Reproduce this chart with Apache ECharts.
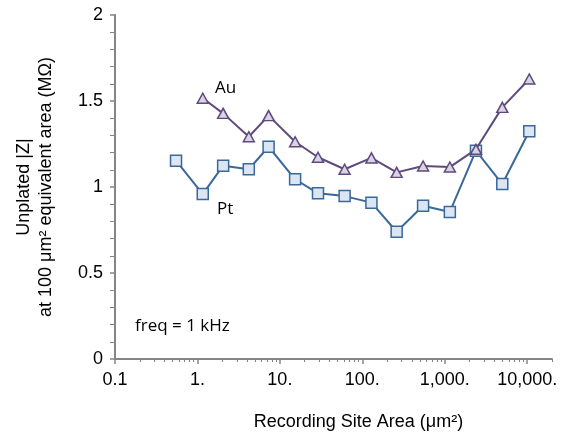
<!DOCTYPE html>
<html>
<head>
<meta charset="utf-8">
<script src="https://cdn.jsdelivr.net/npm/echarts@6/dist/echarts.min.js"></script>
<style>html,body{margin:0;padding:0;background:#fff}#c{width:565px;height:437px}</style>
</head>
<body>
<div id="c"></div>
<script>
// Recording site area (µm²)
var ptArea = [0.55, 1.16, 2.05, 4.2, 7.3, 15.3, 29, 61, 129, 261, 546, 1153, 2390, 4990, 10600];
var ptZ    = [1.153, 0.959, 1.124, 1.103, 1.234, 1.045, 0.963, 0.947, 0.909, 0.740, 0.891, 0.855, 1.211, 1.017, 1.324];
var auArea = [1.16, 2.05, 4.2, 7.3, 15.3, 29, 61, 129, 261, 546, 1153, 2390, 4990, 10600];
var auZ    = [1.516, 1.428, 1.292, 1.415, 1.263, 1.173, 1.103, 1.169, 1.085, 1.122, 1.116, 1.219, 1.463, 1.628];

var xMajorTicks = [0.1, 1, 10, 100, 1000, 10000];
var xTickLabels = ['0.1', '1.', '10.', '100.', '1,000.', '10,000.'];
var xMinorMultipliers = [2, 3, 4, 5, 6, 7, 8, 9];
var yTickLabels = ['0', '0.5', '1', '1.5', '2'];

var xMinorTicks = [];
xMajorTicks.forEach(function (d) {
  xMinorMultipliers.forEach(function (m) {
    var v = +(d * m).toPrecision(6);
    if (v <= 20000) xMinorTicks.push(v);
  });
});
xMinorTicks.push(20000);

function pairs(xs, ys) { return xs.map(function (x, i) { return [x, ys[i]]; }); }

var axisColor = '#868686';
var labelFont = 'Liberation Sans, Arial, sans-serif';
var noteFont = '"Open Sans", Lato, sans-serif';

var chart = echarts.init(document.getElementById('c'), null, { renderer: 'canvas' });
chart.setOption({
  animation: false,
  grid: { left: 115, right: 13, top: 15, bottom: 78, containLabel: false },
  xAxis: [{
    type: 'log', logBase: 10, min: 0.1, max: 20000,
    axisLine: { show: true, lineStyle: { color: axisColor, width: 2 } },
    axisTick: { show: true, customValues: xMajorTicks, length: 5, lineStyle: { color: axisColor, width: 1.5 } },
    axisLabel: {
      customValues: xMajorTicks, margin: 12, color: '#000',
      fontFamily: labelFont, fontSize: 18,
      formatter: function (v) {
        for (var i = 0; i < xMajorTicks.length; i++) {
          if (Math.abs(Math.log10(v) - Math.log10(xMajorTicks[i])) < 1e-6) return xTickLabels[i];
        }
        return '';
      }
    },
    splitLine: { show: false },
    name: 'Recording Site Area (μm²)', nameLocation: 'middle', nameGap: 54,
    nameTextStyle: { fontFamily: labelFont, fontSize: 18, color: '#000', padding: [0, 0, 0, 50] }
  }, {
    type: 'log', logBase: 10, min: 0.1, max: 20000, position: 'bottom',
    axisLine: { show: false },
    axisTick: { show: true, customValues: xMinorTicks, length: 3, lineStyle: { color: axisColor, width: 1 } },
    axisLabel: { show: false },
    splitLine: { show: false }
  }],
  yAxis: {
    type: 'value', min: 0, max: 2, interval: 0.5,
    axisLine: { show: true, lineStyle: { color: axisColor, width: 2 } },
    axisTick: { show: true, length: 5, lineStyle: { color: axisColor, width: 1.5 } },
    minorTick: { show: true, splitNumber: 5, length: 5, lineStyle: { color: axisColor, width: 1 } },
    axisLabel: {
      margin: 12, color: '#000', fontFamily: labelFont, fontSize: 18,
      formatter: function (v) { return yTickLabels[Math.round(v / 0.5)]; }
    },
    splitLine: { show: false },
    minorSplitLine: { show: false },
    name: 'Unplated |Z|\nat 100 μm² equivalent area (MΩ)', nameLocation: 'middle', nameGap: 58, nameRotate: 90,
    nameTextStyle: { fontFamily: labelFont, fontSize: 18, color: '#000', lineHeight: 22 }
  },
  series: [{
    name: 'Au', type: 'line', xAxisIndex: 0, data: pairs(auArea, auZ),
    symbol: 'triangle', symbolSize: [11, 10],
    lineStyle: { color: '#5f4a7e', width: 2 },
    itemStyle: { color: '#d9d3e4', borderColor: '#5f4a7e', borderWidth: 1.5 },
    z: 3
  }, {
    name: 'Pt', type: 'line', xAxisIndex: 0, data: pairs(ptArea, ptZ),
    symbol: 'rect', symbolSize: 11,
    lineStyle: { color: '#3a6898', width: 2 },
    itemStyle: { color: '#dce6f2', borderColor: '#3a6898', borderWidth: 1.5 },
    z: 2
  }],
  graphic: [
    { type: 'text', left: 215, top: 80, style: { text: 'Au', font: '17px ' + noteFont, fill: '#000' } },
    { type: 'text', left: 217, top: 201, style: { text: 'Pt', font: '17px ' + noteFont, fill: '#000' } },
    { type: 'text', left: 135, top: 318, style: { text: 'freq = 1 kHz', font: '17px ' + noteFont, fill: '#000' } }
  ]
});
</script>
</body>
</html>
